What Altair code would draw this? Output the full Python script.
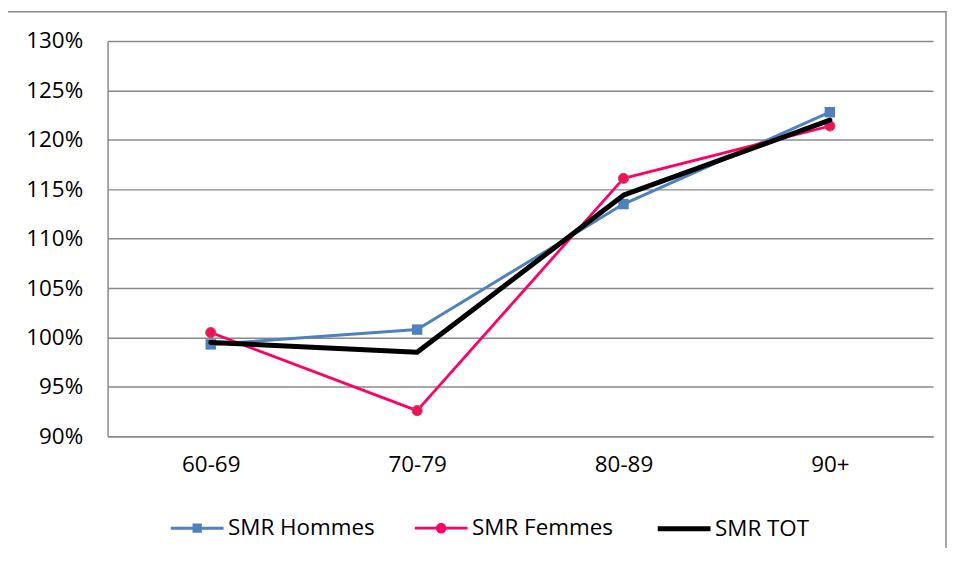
import altair as alt
import pandas as pd

ages = ["60-69", "70-79", "80-89", "90+"]
series = ["SMR Hommes", "SMR Femmes", "SMR TOT"]
hommes = [0.993, 1.008, 1.135, 1.228]
femmes = [1.005, 0.926, 1.161, 1.214]
tot = [0.995, 0.985, 1.144, 1.220]
y_ticks = [0.90, 0.95, 1.00, 1.05, 1.10, 1.15, 1.20, 1.25, 1.30]

colors = ["#4f81bd", "#ff0066", "#000000"]
widths = [3, 2.75, 5]
legend_shapes = [
    "M-1,0H1M-0.12,-0.12H0.12V0.12H-0.12Z",
    "M-1,0H1M0.15,0A0.15,0.15,0,1,1,-0.15,0A0.15,0.15,0,1,1,0.15,0Z",
    "M-1,0H1",
]

rows = []
for name, vals in zip(series, [hommes, femmes, tot]):
    for a, v in zip(ages, vals):
        rows.append({"age": a, "series": name, "value": v})
df = pd.DataFrame(rows)

FONT = "Open Sans"
FS = 22.5
GRID = "#8a8a8a"

x = alt.X("age:N", sort=ages,
          scale=alt.Scale(type="point", domain=ages, padding=0.5),
          axis=alt.Axis(title=None, labelAngle=0, ticks=False, grid=False,
                        domainColor=GRID, domainWidth=1.5,
                        labelPadding=28, labelBaseline="middle"))
y = alt.Y("value:Q",
          scale=alt.Scale(domain=[0.9, 1.3], nice=False, zero=False),
          axis=alt.Axis(title=None, values=y_ticks, format=".0%", ticks=False,
                        grid=True, gridColor=GRID, gridWidth=1.5,
                        domainColor=GRID, domainWidth=1.5, labelPadding=25))

stroke_enc = alt.Stroke("series:N", scale=alt.Scale(domain=series, range=colors),
                        legend=alt.Legend(title=None))
sw_enc = alt.StrokeWidth("series:N",
                         scale=alt.Scale(type="ordinal", domain=series, range=widths),
                         legend=alt.Legend(title=None))

base = alt.Chart(df).encode(x=x, y=y)


def line_for(name):
    return base.transform_filter(alt.datum.series == name).mark_line(
        strokeJoin="round", strokeCap="round").encode(stroke=stroke_enc, strokeWidth=sw_enc)


h_line = line_for("SMR Hommes")
h_pts = base.transform_filter(alt.datum.series == "SMR Hommes").mark_square(
    size=110, color="#4f81bd", opacity=1)
f_line = line_for("SMR Femmes")
f_pts = base.transform_filter(alt.datum.series == "SMR Femmes").mark_point(
    filled=True, shape="circle", size=105, fill="#f0115c", stroke="#c0504d",
    strokeWidth=1, opacity=1)
t_line = line_for("SMR TOT")

legend_layer = base.mark_point(opacity=0).encode(
    shape=alt.Shape("series:N", scale=alt.Scale(domain=series, range=legend_shapes),
                    legend=alt.Legend(title=None)),
    fill=alt.Fill("series:N", scale=alt.Scale(domain=series, range=colors),
                  legend=alt.Legend(title=None)),
    stroke=stroke_enc,
    strokeWidth=sw_enc,
)

frame = alt.Chart(pd.DataFrame({"f": [0]})).mark_rect(
    fill=None, stroke=GRID, strokeWidth=1.5).encode(
    x=alt.value(-101), x2=alt.value(842), y=alt.value(-29.5), y2=alt.value(600))

chart = alt.layer(frame, h_line, h_pts, f_line, f_pts, t_line, legend_layer).properties(
    width=829, height=397,
    autosize=alt.AutoSizeParams(type="none"),
    padding={"left": 100, "top": 32, "right": 14, "bottom": 111},
).configure_view(stroke=None).configure_axis(
    labelFont=FONT, labelFontSize=FS, labelColor="#000000",
).configure_legend(
    orient="none", legendX=61, legendY=460.5, direction="horizontal", columns=3,
    labelFont=FONT, labelFontSize=FS, labelColor="#000000",
    symbolSize=2809, labelOffset=2, columnPadding=34, padding=0,
    symbolOpacity=1,
)

chart.save("out.html", embed_options={"renderer": "svg", "actions": False})
